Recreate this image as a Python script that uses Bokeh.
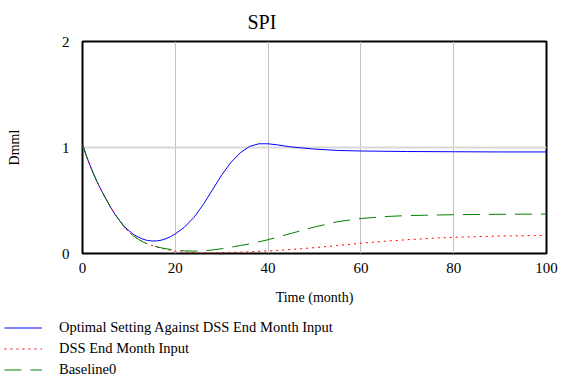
from bokeh.plotting import figure
from bokeh.models import Range1d, FixedTicker, Legend, LegendItem
from bokeh.layouts import column
from bokeh.embed import file_html
from bokeh.resources import INLINE

FONT = "'Liberation Serif', 'Times New Roman', serif"

# Optimal Setting Against DSS End Month Input
t_opt = [0, 1, 2, 3, 4, 5, 6, 7, 8, 9, 10, 11, 12, 13, 14, 15, 16, 17, 18, 19, 20,
         22, 24, 26, 28, 30, 32, 34, 36, 38, 40, 42, 45, 50, 55, 60, 70, 80, 90, 100]
v_opt = [1.03, 0.90, 0.79, 0.69, 0.60, 0.52, 0.44, 0.37, 0.31, 0.255, 0.215, 0.18, 0.155,
         0.135, 0.123, 0.118, 0.119, 0.126, 0.14, 0.16, 0.185,
         0.25, 0.34, 0.46, 0.60, 0.74, 0.86, 0.95, 1.01, 1.035, 1.035, 1.025, 1.005,
         0.985, 0.972, 0.967, 0.962, 0.96, 0.958, 0.958]

# DSS End Month Input
t_dss = [0, 1, 2, 3, 4, 5, 6, 7, 8, 9, 10, 11, 12, 13, 14, 15, 16, 17, 18, 20,
         22, 24, 26, 28, 30, 35, 40, 45, 50, 55, 60, 65, 70, 75, 80, 90, 100]
v_dss = [1.03, 0.90, 0.79, 0.69, 0.60, 0.52, 0.44, 0.37, 0.31, 0.25, 0.20, 0.165, 0.135,
         0.11, 0.09, 0.075, 0.062, 0.05, 0.04, 0.02,
         0.012, 0.007, 0.005, 0.006, 0.008, 0.014, 0.024, 0.038, 0.055, 0.075, 0.097,
         0.115, 0.13, 0.143, 0.153, 0.165, 0.17]

# Baseline0
t_base = [0, 1, 2, 3, 4, 5, 6, 7, 8, 9, 10, 11, 12, 13, 14, 15, 16, 17, 18, 20,
          22, 24, 26, 28, 30, 32, 34, 36, 38, 40, 42, 45, 50, 55, 60, 65, 70, 80, 90, 100]
v_base = [1.03, 0.90, 0.79, 0.69, 0.60, 0.52, 0.44, 0.37, 0.31, 0.25, 0.20, 0.165, 0.135,
          0.11, 0.09, 0.075, 0.063, 0.053, 0.045, 0.032,
          0.025, 0.022, 0.025, 0.033, 0.045, 0.06, 0.075, 0.09, 0.11, 0.13, 0.155, 0.19,
          0.25, 0.30, 0.33, 0.348, 0.358, 0.366, 0.37, 0.372]

series_names = ["Optimal Setting Against DSS End Month Input", "DSS End Month Input", "Baseline0"]
series_t = [t_opt, t_dss, t_base]
series_v = [v_opt, v_dss, v_base]
x_ticks = [0, 20, 40, 60, 80, 100]
y_ticks = [0, 1, 2]

styles = [dict(line_color="blue", line_width=1),
          dict(line_color="red", line_width=1, line_dash="2 4"),
          dict(line_color="green", line_width=1, line_dash="17 9")]

p = figure(width=560, height=312, output_backend="svg", toolbar_location=None,
           x_range=Range1d(0, 100), y_range=Range1d(0, 2),
           min_border_left=82, min_border_right=14, min_border_top=40, min_border_bottom=59,
           title="SPI")

p.title.text_font = FONT
p.title.text_font_size = "20px"
p.title.text_font_style = "normal"
p.title.text_color = "black"
p.title.align = "left"
p.title.offset = 165
p.title.standoff = 17

p.outline_line_color = "black"
p.outline_line_width = 2
p.background_fill_color = "white"
p.border_fill_color = "white"

for ax in (p.xaxis[0], p.yaxis[0]):
    ax.axis_line_color = None
    ax.major_tick_line_color = None
    ax.minor_tick_line_color = None
    ax.major_label_text_font = FONT
    ax.major_label_text_font_size = "15px"
    ax.major_label_text_color = "black"
    ax.axis_label_text_font = FONT
    ax.axis_label_text_font_size = "14px"
    ax.axis_label_text_font_style = "normal"
    ax.axis_label_text_color = "black"

p.xaxis.ticker = FixedTicker(ticks=x_ticks)
p.yaxis.ticker = FixedTicker(ticks=y_ticks)
p.xaxis.axis_label = "Time (month)"
p.yaxis.axis_label = "Dmml"
p.xaxis.major_label_standoff = 3
p.yaxis.major_label_standoff = 7
p.xaxis.axis_label_standoff = 14
p.yaxis.axis_label_standoff = 37

p.xgrid.grid_line_color = "#c0c0c0"
p.xgrid.grid_line_width = 1
p.ygrid.grid_line_color = "#d8d8d8"
p.ygrid.grid_line_width = 2

for tt, vv, s in zip(series_t, series_v, styles):
    p.line(tt, vv, **s)

# legend panel (its ranges keep the copies of the series off-screen; only the legend shows)
q = figure(width=560, height=70, output_backend="svg", toolbar_location=None,
           x_range=Range1d(1000, 1001), y_range=Range1d(1000, 1001),
           min_border_left=0, min_border_right=0, min_border_top=0, min_border_bottom=0)
q.axis.visible = False
q.grid.visible = False
q.outline_line_color = None
q.border_fill_color = "white"
q.background_fill_color = "white"
if "frame_align" in q.properties():
    q.frame_align = False
    p.frame_align = False

copies = [q.line(tt, vv, **s) for tt, vv, s in zip(series_t, series_v, styles)]
legend = Legend(items=[LegendItem(label=n, renderers=[r]) for n, r in zip(series_names, copies)],
                location=(4, 2), orientation="vertical",
                glyph_width=38, glyph_height=21, label_height=21, label_standoff=17,
                spacing=0, padding=0, margin=0,
                border_line_color=None, background_fill_alpha=0,
                label_text_font=FONT, label_text_font_size="14.5px", label_text_color="black")
q.add_layout(legend, "center")

layout = column(p, q, spacing=0)
open("out.html", "w").write(file_html(layout, INLINE))
